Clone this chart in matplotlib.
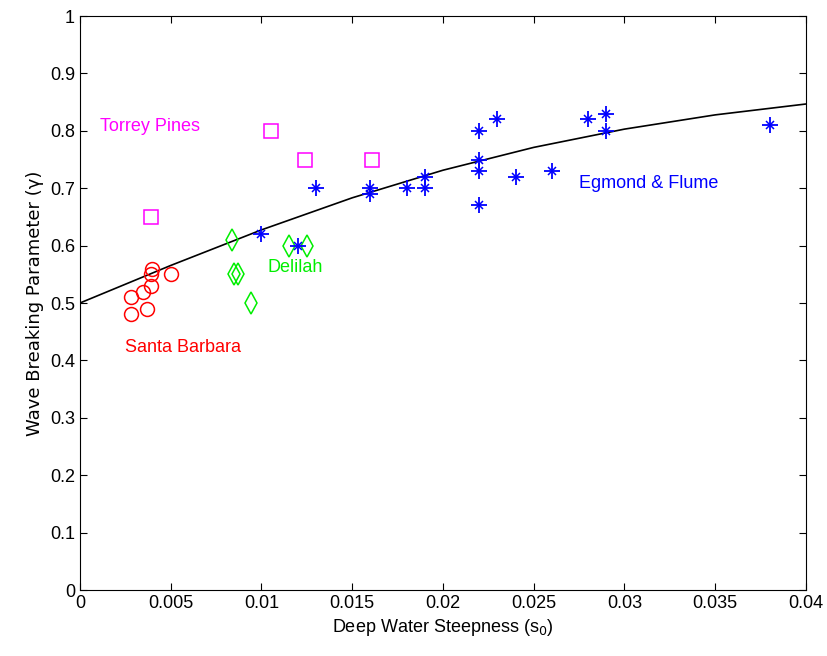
import numpy as np
import matplotlib
matplotlib.use('Agg')
import matplotlib.pyplot as plt

plt.rcParams['font.family'] = ['Liberation Sans Narrow', 'Liberation Sans', 'DejaVu Sans']

# Santa Barbara (circles)
sb_s = [0.0028, 0.0028, 0.00345, 0.0037, 0.00395, 0.0039, 0.0039, 0.005]
sb_g = [0.51, 0.48, 0.52, 0.49, 0.56, 0.55, 0.53, 0.55]

# Torrey Pines (squares)
tp_s = [0.0039, 0.0105, 0.0124, 0.0161]
tp_g = [0.65, 0.80, 0.75, 0.75]

# Delilah (diamonds)
de_s = [0.0084, 0.0085, 0.0087, 0.0094, 0.0115, 0.0125]
de_g = [0.61, 0.55, 0.55, 0.50, 0.60, 0.60]

# Egmond & Flume (asterisks)
eg_s = [0.010, 0.012, 0.013, 0.016, 0.016, 0.018, 0.019, 0.019,
        0.022, 0.022, 0.022, 0.022, 0.023, 0.024, 0.026, 0.028,
        0.029, 0.029, 0.038]
eg_g = [0.62, 0.60, 0.70, 0.70, 0.69, 0.70, 0.72, 0.70,
        0.80, 0.75, 0.73, 0.67, 0.82, 0.72, 0.73, 0.82,
        0.83, 0.80, 0.81]

# gamma = 0.5 + 0.4*tanh(33*s0)
s_line = np.arange(0, 0.0401, 0.005)
g_line = 0.5 + 0.4 * np.tanh(33 * s_line)

fig = plt.figure(figsize=(8.27, 6.56), dpi=100)
ax = fig.add_axes([0.0967, 0.1006, 0.8779, 0.875])

ax.plot(s_line, g_line, color='black', lw=1.2)
ax.plot(sb_s, sb_g, 'o', mfc='none', mec='#ff0000', ms=10, mew=1.1)
ax.plot(tp_s, tp_g, 's', mfc='none', mec='#ff00ff', ms=10, mew=1.1)
ax.plot(de_s, de_g, 'd', mfc='none', mec='#00ee00', ms=11, mew=1.1)
ax.plot(eg_s, eg_g, ls='none', marker='+', color='#0000ff', ms=11, mew=1.3)
ax.plot(eg_s, eg_g, ls='none', marker='x', color='#0000ff', ms=6, mew=1.1)

ax.text(0.0011, 0.807, 'Torrey Pines', color='#ff00ff', fontsize=13, va='center')
ax.text(0.0025, 0.423, 'Santa Barbara', color='#ff0000', fontsize=13, va='center')
ax.text(0.01035, 0.561, 'Delilah', color='#00ee00', fontsize=13, va='center')
ax.text(0.0275, 0.709, 'Egmond & Flume', color='#0000ff', fontsize=13, va='center')

ax.set_xlim(0, 0.04)
ax.set_ylim(0, 1)
ax.set_xticks(np.arange(0, 0.0401, 0.005))
ax.set_xticklabels(['0', '0.005', '0.01', '0.015', '0.02', '0.025', '0.03', '0.035', '0.04'])
ax.set_yticks(np.arange(0, 1.01, 0.1))
ax.set_yticklabels(['0', '0.1', '0.2', '0.3', '0.4', '0.5', '0.6', '0.7', '0.8', '0.9', '1'])
ax.tick_params(direction='in', top=True, right=True, labelsize=13, length=5)
ax.set_xlabel('Deep Water Steepness (s$_0$)', fontsize=13)
ax.set_ylabel('Wave Breaking Parameter (\u03b3)', fontsize=13, family=['DejaVu Sans'])

fig.savefig('out.png', dpi=100)
